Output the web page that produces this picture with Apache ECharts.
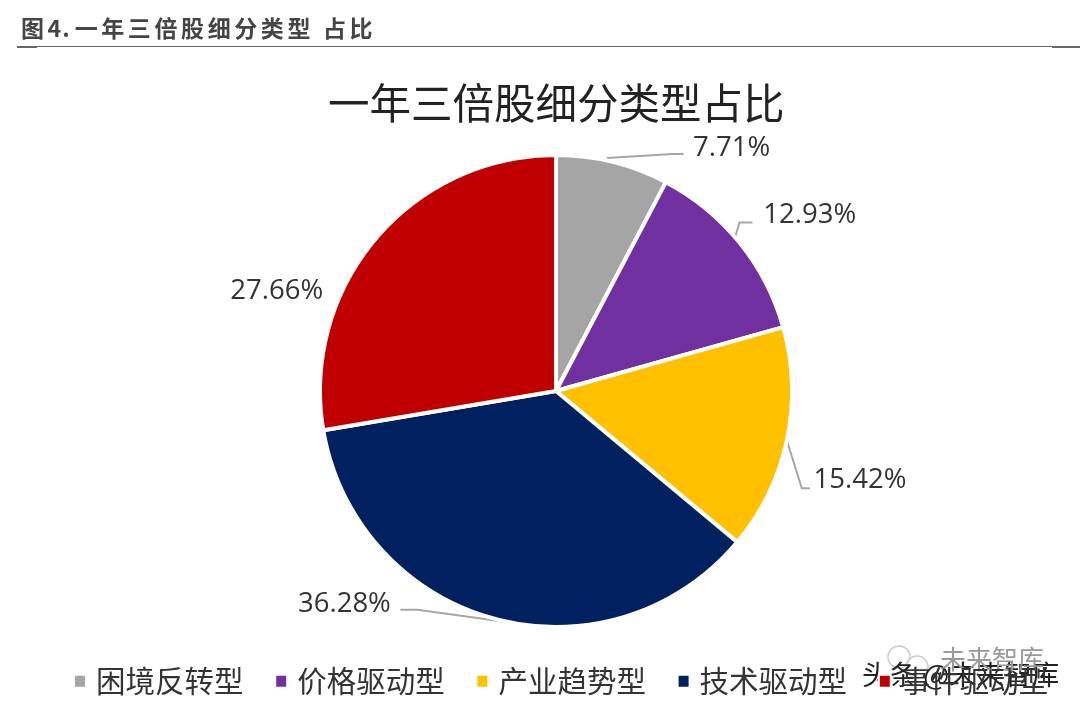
<!DOCTYPE html>
<html><head><meta charset="utf-8">
<style>
html,body{margin:0;padding:0;background:#fff;}
#c{position:absolute;left:0;top:0;width:1080px;height:712px;}
#h{position:absolute;left:21px;top:10px;font:bold 23px "Noto Sans CJK SC";color:#444;letter-spacing:3.6px;line-height:34px;white-space:nowrap;}
#h span{letter-spacing:1px;margin-right:4px;}
.r{position:absolute;background:#666;}
</style>
<script src="https://cdn.jsdelivr.net/npm/echarts@6/dist/echarts.min.js"></script>
</head><body>
<div id="c"></div>
<div id="h">图<span>4.</span>一年三倍股细分类型 占比</div>
<div class="r" style="left:17px;width:1063px;top:46px;height:1px"></div>
<div class="r" style="left:17px;width:20px;top:46px;height:2px"></div>
<div class="r" style="left:1052px;width:28px;top:46px;height:2px"></div>
<script>
const chartTitle = '一年三倍股细分类型占比';
const categories = ['困境反转型','价格驱动型','产业趋势型','技术驱动型','事件驱动型'];
const values = [7.71,12.93,15.42,36.28,27.66];
const colors = ['#A5A5A5','#7030A0','#FFC000','#002060','#C00000'];
const labelShift = [[63,-4],[1,-21],[2,38],[-86,-24],[-30,59]];
const lineLegs = [[[-6,-4],[60,-8],[71,-8]],[[-6,0],[0,-20],[13,-20]],[[0,0],[15,48],[23,48]],[[10,3],[-77,-9],[-94,-9]],null];
const chart = echarts.init(document.getElementById('c'));
const font = '"Noto Sans CJK SC","Open Sans",sans-serif';
chart.setOption({
  animation:false,
  title:{text:chartTitle,left:323,top:77,itemGap:0,
    textStyle:{fontFamily:font,fontSize:41.5,fontWeight:'normal',color:'#222'}},
  legend:{bottom:11,left:68,itemWidth:12,itemHeight:13,itemGap:30.7,icon:'rect',
    textStyle:{fontFamily:font,fontSize:29.5,color:'#333',padding:[0,0,0,5]},data:categories},
  series:[{type:'pie',center:[556,391],radius:[0,236],startAngle:90,clockwise:true,
    itemStyle:{borderColor:'#fff',borderWidth:4},
    label:{show:true,position:'outside',formatter:p=>p.value.toFixed(2)+'%',fontFamily:'"Open Sans",sans-serif',fontSize:27.5,color:'#333'},
    labelLine:{show:true,length:10,length2:10,lineStyle:{color:'#A6A6A6',width:2}},
    labelLayout:p=>{
      const out={dx:labelShift[p.dataIndex][0],dy:labelShift[p.dataIndex][1]};
      const legs=lineLegs[p.dataIndex];
      if(legs&&p.labelLinePoints){
        const s=p.labelLinePoints[0];
        out.labelLinePoints=legs.map(l=>[s[0]+l[0],s[1]+l[1]]);
      }
      return out;
    },
    emphasis:{disabled:true},
    data:categories.map((n,i)=>({name:n,value:values[i],itemStyle:{color:colors[i]},
      labelLine:{show:i!==4}}))
  }],
  graphic:[
    {type:'circle',shape:{cx:899,cy:657,r:11},style:{fill:'rgba(255,255,255,0.6)',stroke:'#ccc',lineWidth:1.5}},
    {type:'circle',shape:{cx:917,cy:667,r:11},style:{fill:'rgba(255,255,255,0.6)',stroke:'#ccc',lineWidth:1.5}},
    {type:'text',left:862,top:661,style:{text:'头条 @未来智库',font:'27.5px '+font,fill:'#222'}},
    {type:'text',left:940,top:646,style:{text:'未来智库',font:'26px '+font,fill:'#999'}}
  ]
});
</script></body></html>
